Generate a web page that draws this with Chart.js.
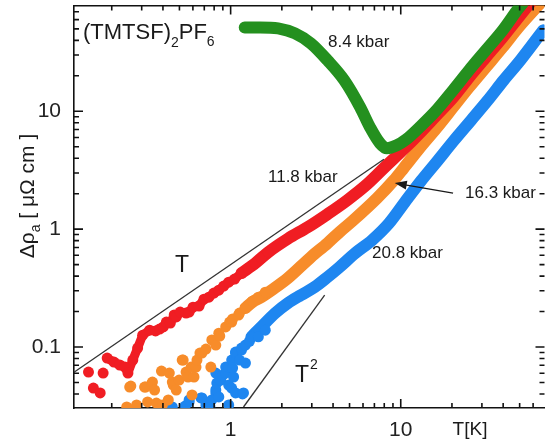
<!DOCTYPE html>
<html>
<head>
<meta charset="utf-8">
<script src="https://cdn.jsdelivr.net/npm/chart.js@4.4.1/dist/chart.umd.min.js"></script>
<style>
html, body { margin: 0; padding: 0; background: #fff; overflow: hidden; }
#wrap { width: 550px; height: 445px; position: relative; }
</style>
</head>
<body>
<div id="wrap"><canvas id="chart"></canvas></div>
<script>
// (TMTSF)2PF6 resistivity vs temperature, log-log
const pressures = ['8.4 kbar', '11.8 kbar', '16.3 kbar', '20.8 kbar'];

const greenT   = [1.21, 1.49, 1.90, 2.39, 2.96, 3.71, 4.66, 5.78, 6.60, 7.55, 8.29, 9.48, 10.8, 12.9, 16.2, 20.3, 25.2, 31.6, 39.7, 49.2, 52.6];
const greenRho = [51.5, 51.5, 50.5, 45.8, 37.7, 27.1, 18.3, 10.8, 7.32, 5.36, 4.86, 5.15, 5.79, 7.32, 10.2, 15.1, 22.3, 32.9, 48.6, 74.6, 83.9];

const redDotT   = [0.146, 0.156, 0.171, 0.178, 0.188, 0.206, 0.223, 0.239, 0.249, 0.266, 0.284, 0.304, 0.334, 0.362, 0.382, 0.402, 0.419, 0.442, 0.466, 0.479, 0.505, 0.547, 0.570, 0.601, 0.652, 0.697, 0.745, 0.797, 0.852, 0.911, 0.974, 1.055, 1.159, 1.272, 1.398, 1.514, 1.664];
const redDotRho = [0.0614, 0.0449, 0.0408, 0.0602, 0.0807, 0.0746, 0.0704, 0.0677, 0.0602, 0.0776, 0.0981, 0.126, 0.139, 0.137, 0.142, 0.148, 0.163, 0.160, 0.187, 0.180, 0.198, 0.194, 0.198, 0.218, 0.223, 0.255, 0.265, 0.287, 0.304, 0.329, 0.355, 0.377, 0.424, 0.467, 0.515, 0.568, 0.638];
const redT   = [1.159, 1.398, 1.664, 2.17, 2.84, 3.71, 4.85, 6.34, 8.29, 10.4, 12.9, 16.2, 20.3, 25.2, 31.6, 39.7, 49.2, 59.3];
const redRho = [0.424, 0.515, 0.638, 0.830, 1.04, 1.34, 1.76, 2.40, 3.49, 4.76, 6.51, 9.25, 13.1, 19.4, 28.7, 42.4, 62.6, 87.3];

const orangeDotT   = [0.245, 0.255, 0.259, 0.280, 0.312, 0.316, 0.325, 0.343, 0.347, 0.357, 0.366, 0.392, 0.397, 0.430, 0.436, 0.454, 0.460, 0.479, 0.498, 0.519, 0.526, 0.547, 0.562, 0.586, 0.593, 0.609, 0.626, 0.634, 0.660, 0.678, 0.716, 0.765, 0.775, 0.818, 0.852, 0.863, 0.935, 0.987, 1.014, 1.027, 1.113, 1.128, 1.222, 1.342, 1.455, 1.598];
const orangeDotRho = [0.0310, 0.0458, 0.0467, 0.0323, 0.0458, 0.0458, 0.0342, 0.0486, 0.0505, 0.0432, 0.0335, 0.0626, 0.0323, 0.0356, 0.0602, 0.0505, 0.0476, 0.0432, 0.0525, 0.0776, 0.0776, 0.0614, 0.0557, 0.0677, 0.0392, 0.0557, 0.0677, 0.0776, 0.0889, 0.0889, 0.0961, 0.0677, 0.115, 0.104, 0.131, 0.124, 0.148, 0.163, 0.163, 0.173, 0.187, 0.194, 0.214, 0.245, 0.265, 0.292];
const orangeT   = [1.222, 1.342, 1.514, 1.778, 2.17, 2.96, 3.71, 4.36, 5.19, 7.25, 9.11, 10.4, 12.9, 16.2, 20.3, 25.2, 31.6, 39.7, 49.2, 64.3, 68.7];
const orangeRho = [0.214, 0.241, 0.265, 0.310, 0.384, 0.579, 0.761, 0.943, 1.17, 1.83, 2.60, 3.29, 4.86, 7.18, 10.8, 16.0, 23.6, 34.9, 51.5, 79.1, 87.3];

const blueDotT   = [0.454, 0.540, 0.570, 0.570, 0.669, 0.678, 0.716, 0.755, 0.775, 0.818, 0.818, 0.829, 0.852, 0.863, 0.875, 0.818, 0.899, 0.935, 0.935, 0.974, 0.974, 0.974, 1.014, 1.014, 1.027, 1.041, 1.069, 1.069, 1.069, 1.128, 1.159, 1.159, 1.174, 1.190, 1.222, 1.222, 1.290, 1.325, 1.455, 1.598];
const blueDotRho = [0.0310, 0.0316, 0.0342, 0.0356, 0.0370, 0.0370, 0.0323, 0.0316, 0.0356, 0.0408, 0.0432, 0.0495, 0.0377, 0.0525, 0.0525, 0.0602, 0.0579, 0.0677, 0.0602, 0.0476, 0.0677, 0.0323, 0.0449, 0.0776, 0.0664, 0.0557, 0.0907, 0.0889, 0.0408, 0.0776, 0.0943, 0.0981, 0.0400, 0.0408, 0.104, 0.0732, 0.112, 0.122, 0.122, 0.139];
const blueT   = [1.325, 1.514, 1.827, 2.17, 2.59, 3.12, 3.71, 4.36, 5.40, 6.78, 8.52, 10.55, 13.25, 16.2, 20.6, 25.9, 32.5, 40.2, 50.5, 68.7];
const blueRho = [0.122, 0.148, 0.194, 0.236, 0.276, 0.323, 0.392, 0.476, 0.626, 0.807, 1.12, 1.69, 2.60, 3.70, 5.68, 8.39, 12.4, 18.3, 27.1, 48.6];

// guide lines ~T and ~T^2
const linT   = [0.12, 7.96];
const linRho = [0.0612, 3.92];
const sqT    = [1.19, 3.57];
const sqRho  = [0.0310, 0.276];

const xRange = [0.12, 70];
const yRange = [0.0304, 79];
const xTickLabels = [1, 10];
const yTickLabels = [0.1, 1, 10];

const colors = { green: '#24901f', red: '#f01d23', orange: '#f78c2a', blue: '#1e86f0' };

const pts = (xs, ys) => xs.map((x, i) => ({ x: x, y: ys[i] }));

function band(xs, ys, color) {
    return { data: pts(xs, ys), showLine: true, borderColor: color, backgroundColor: color,
             borderWidth: 12, pointRadius: 0, cubicInterpolationMode: 'monotone',
             borderCapStyle: 'round', borderJoinStyle: 'round', xAxisID: 'x', yAxisID: 'y' };
}
function dots(xs, ys, color) {
    return { data: pts(xs, ys), showLine: false, backgroundColor: color, borderWidth: 0,
             pointRadius: 5.5, pointHoverRadius: 5.5, xAxisID: 'x', yAxisID: 'y' };
}
// noisy stretch where the dots run together into a ragged band
function ragged(xs, ys, color) {
    return { data: pts(xs, ys), showLine: true, borderColor: color, backgroundColor: color,
             borderWidth: 9, pointRadius: 5.5, pointBorderWidth: 0, tension: 0,
             borderCapStyle: 'round', borderJoinStyle: 'round', xAxisID: 'x', yAxisID: 'y' };
}
function guide(xs, ys) {
    return { data: pts(xs, ys), showLine: true, borderColor: '#333', borderWidth: 1.3,
             pointRadius: 0, xAxisID: 'x', yAxisID: 'y' };
}

// 1..9 x 10^n values inside a range, for the minor/major tick marks
function logSteps(range) {
    const out = [];
    for (let e = Math.floor(Math.log10(range[0])); e <= Math.ceil(Math.log10(range[1])); e++) {
        for (let m = 1; m <= 9; m++) {
            const v = m * Math.pow(10, e);
            if (v > range[0] * 1.0001 && v < range[1] * 0.9999) out.push({ v: v, major: m === 1 });
        }
    }
    return out;
}
function fixSize(size) {
    return function (scale) {
        if (scale.isHorizontal()) scale.height = size; else scale.width = size;
        scale.paddingLeft = scale.paddingRight = scale.paddingTop = scale.paddingBottom = 0;
    };
}
function onlyLabels(list) {
    return function (scale) {
        scale.ticks = list.map(v => ({ value: v }));
    };
}

const tickFont = { family: "'Liberation Sans', Arial, sans-serif", size: 21 };
const gridOff = { display: false };
const border = { display: true, color: '#111', width: 1.6 };

// tick marks pointing into the plot, longer at decades
const inTicks = {
    id: 'inTicks',
    afterDraw(chart) {
        const ctx = chart.ctx, a = chart.chartArea;
        const sx = chart.scales.x, sy = chart.scales.y;
        ctx.save();
        ctx.strokeStyle = '#111';
        ctx.lineWidth = 1.6;
        ctx.setLineDash([]);
        ctx.globalAlpha = 1;
        logSteps(xRange).forEach(t => {
            const p = sx.getPixelForValue(t.v);
            const len = t.major ? 9 : 5;
            ctx.beginPath();
            ctx.moveTo(p, a.bottom); ctx.lineTo(p, a.bottom - len);
            ctx.moveTo(p, a.top); ctx.lineTo(p, a.top + len);
            ctx.stroke();
        });
        logSteps(yRange).forEach(t => {
            const p = sy.getPixelForValue(t.v);
            const len = t.major ? 9 : 5;
            ctx.beginPath();
            ctx.moveTo(a.left, p); ctx.lineTo(a.left + len, p);
            ctx.moveTo(a.right, p); ctx.lineTo(a.right - len, p);
            ctx.stroke();
        });
        ctx.restore();
    }
};

const notes = {
    id: 'notes',
    afterDraw(chart) {
        const ctx = chart.ctx;
        const sx = chart.scales.x, sy = chart.scales.y;
        const fam = "'Liberation Sans', Arial, sans-serif";
        ctx.save();
        ctx.fillStyle = '#1a1a1a';

        function runs(parts, x, y) {
            let cx = x;
            parts.forEach(p => {
                ctx.font = p[1] + 'px ' + fam;
                ctx.fillText(p[0], cx, y + (p[2] || 0));
                cx += ctx.measureText(p[0]).width;
            });
            return cx - x;
        }
        function width(parts) {
            let w = 0;
            parts.forEach(p => { ctx.font = p[1] + 'px ' + fam; w += ctx.measureText(p[0]).width; });
            return w;
        }

        ctx.textBaseline = 'alphabetic';
        ctx.textAlign = 'left';
        runs([['(TMTSF)', 22], ['2', 14, 8], ['PF', 22], ['6', 14, 7]], 83, 39);

        ctx.textBaseline = 'middle';
        ctx.font = '17px ' + fam;
        ctx.fillText(pressures[0], 328, 42);
        ctx.fillText(pressures[1], 268, 177);
        ctx.fillText(pressures[2], 465, 193);
        ctx.fillText(pressures[3], 372, 253);

        ctx.font = '23px ' + fam;
        ctx.textAlign = 'center';
        ctx.fillText('T', 182, 266);
        ctx.fillText('T', 302, 376);
        ctx.font = '14px ' + fam;
        ctx.fillText('2', 314, 365);
        ctx.font = '19px ' + fam;
        ctx.fillText('T[K]', 470, 430);

        // y title, rotated
        ctx.save();
        ctx.translate(34, 196);
        ctx.rotate(-Math.PI / 2);
        ctx.textAlign = 'left';
        ctx.textBaseline = 'alphabetic';
        const title = [['\u0394\u03c1', 21], ['a', 14, 6], [' [ \u03bc\u03a9 cm ]', 21]];
        runs(title, -width(title) / 2, 0);
        ctx.restore();

        // arrow to the 16.3 kbar curve
        const x1 = sx.getPixelForValue(20.3), y1 = sy.getPixelForValue(2.02);
        const x2 = sx.getPixelForValue(9.22), y2 = sy.getPixelForValue(2.46);
        const a = Math.atan2(y2 - y1, x2 - x1);
        ctx.strokeStyle = '#1a1a1a';
        ctx.lineWidth = 1.3;
        ctx.beginPath();
        ctx.moveTo(x1, y1);
        ctx.lineTo(x2 - 9 * Math.cos(a), y2 - 9 * Math.sin(a));
        ctx.stroke();
        ctx.beginPath();
        ctx.moveTo(x2, y2);
        ctx.lineTo(x2 - 12 * Math.cos(a) + 4.5 * Math.sin(a), y2 - 12 * Math.sin(a) - 4.5 * Math.cos(a));
        ctx.lineTo(x2 - 12 * Math.cos(a) - 4.5 * Math.sin(a), y2 - 12 * Math.sin(a) + 4.5 * Math.cos(a));
        ctx.closePath();
        ctx.fill();
        ctx.restore();
    }
};

const redSplit = 4;   // first few red points are isolated dots

new Chart(document.getElementById('chart'), {
    type: 'scatter',
    data: {
        datasets: [
            guide(linT, linRho),
            guide(sqT, sqRho),
            band(greenT, greenRho, colors.green),
            dots(redDotT.slice(0, redSplit), redDotRho.slice(0, redSplit), colors.red),
            ragged(redDotT.slice(redSplit), redDotRho.slice(redSplit), colors.red),
            band(redT, redRho, colors.red),
            dots(orangeDotT, orangeDotRho, colors.orange),
            band(orangeT, orangeRho, colors.orange),
            dots(blueDotT, blueDotRho, colors.blue),
            band(blueT, blueRho, colors.blue)
        ]
    },
    options: {
        responsive: true,
        maintainAspectRatio: false,
        animation: false,
        layout: { padding: 0 },
        plugins: { legend: { display: false }, tooltip: { enabled: false } },
        scales: {
            x: {
                type: 'logarithmic', position: 'bottom', min: xRange[0], max: xRange[1],
                afterBuildTicks: onlyLabels(xTickLabels), afterFit: fixSize(37),
                grid: gridOff, border: border,
                ticks: { autoSkip: false, maxRotation: 0, padding: 2, color: '#222', font: tickFont, callback: v => String(v) }
            },
            x2: {
                type: 'logarithmic', position: 'top', min: xRange[0], max: xRange[1],
                afterFit: fixSize(5),
                grid: gridOff, border: border,
                ticks: { display: false }
            },
            y: {
                type: 'logarithmic', position: 'left', min: yRange[0], max: yRange[1],
                afterBuildTicks: onlyLabels(yTickLabels), afterFit: fixSize(74),
                grid: gridOff, border: border,
                ticks: { autoSkip: false, padding: 5, color: '#222', font: tickFont, callback: v => String(v) }
            },
            y2: {
                type: 'logarithmic', position: 'right', min: yRange[0], max: yRange[1],
                afterFit: fixSize(1),
                grid: gridOff, border: { display: false },
                ticks: { display: false }
            }
        }
    },
    plugins: [inTicks, notes]
});
</script>
</body>
</html>
